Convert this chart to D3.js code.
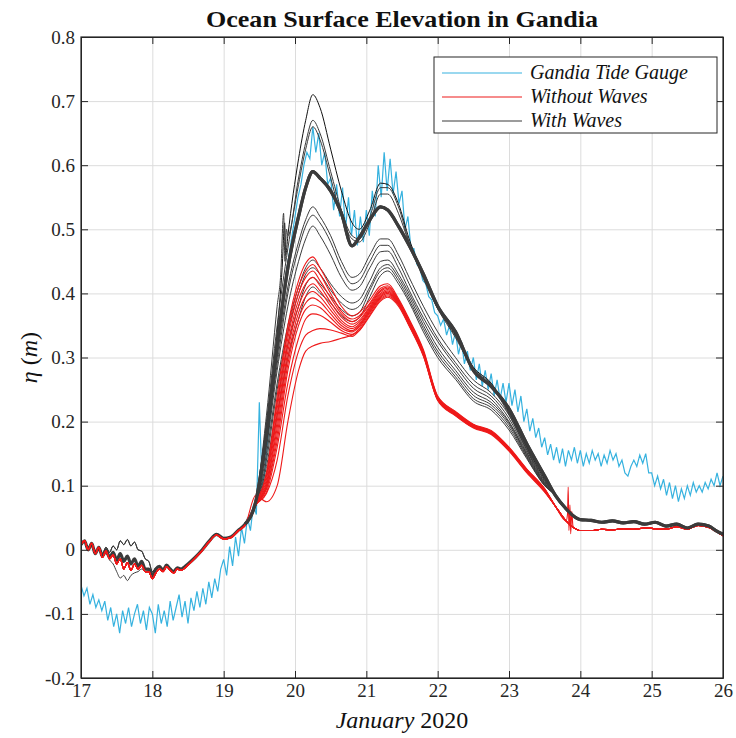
<!DOCTYPE html>
<html>
<head>
<meta charset="utf-8">
<script src="https://cdn.jsdelivr.net/npm/d3@7"></script>
<style>
    body { margin: 0; background: white; }
    svg { display: block; font-family: "Liberation Serif", "DejaVu Serif", serif; }
</style>
</head>
<body>
<svg id="chart"></svg>
<script>
    // ---- data ----
    const xTicks = [17, 18, 19, 20, 21, 22, 23, 24, 25, 26];
    const yTicks = [-0.2, -0.1, 0, 0.1, 0.2, 0.3, 0.4, 0.5, 0.6, 0.7, 0.8];
    const legendLabels = ["Gandia Tide Gauge", "Without Waves", "With Waves"];

    // tide gauge, hourly from Jan 17 00:00 to Jan 26 00:00
    const gaugeStart = 17;
    const gaugeStep = 1 / 24;
    const gauge = [
        -0.055, -0.072, -0.06, -0.085, -0.07, -0.09, -0.078, -0.095, -0.08, -0.11, -0.09, -0.12,
        -0.1, -0.13, -0.095, -0.115, -0.09, -0.12, -0.1, -0.085, -0.115, -0.095, -0.125, -0.09,
        -0.1, -0.13, -0.085, -0.115, -0.095, -0.12, -0.08, -0.11, -0.09, -0.07, -0.105, -0.08,
        -0.115, -0.075, -0.095, -0.065, -0.09, -0.06, -0.085, -0.05, -0.075, -0.045, -0.065, -0.03,
        -0.015, -0.04, 0.005, -0.025, 0.02, -0.01, 0.035, 0.01, 0.05, 0.03, 0.07, 0.055,
        0.23, 0.09, 0.13, 0.18, 0.22, 0.28, 0.31, 0.36, 0.39, 0.43, 0.46, 0.49,
        0.52, 0.55, 0.57, 0.6, 0.62, 0.61, 0.66, 0.62, 0.65, 0.6, 0.62, 0.57,
        0.58, 0.53, 0.57, 0.52, 0.565, 0.5, 0.55, 0.49, 0.53, 0.475, 0.52, 0.48,
        0.53, 0.49, 0.56, 0.52, 0.6, 0.55, 0.62, 0.56, 0.61, 0.555, 0.59, 0.54,
        0.56, 0.5, 0.52, 0.47, 0.47, 0.445, 0.44, 0.42, 0.415, 0.395, 0.39, 0.37,
        0.365, 0.35, 0.36, 0.335, 0.35, 0.32, 0.34, 0.305, 0.325, 0.29, 0.31, 0.28,
        0.3, 0.265, 0.29, 0.255, 0.28, 0.25, 0.275, 0.24, 0.265, 0.235, 0.26, 0.23,
        0.26, 0.225, 0.25, 0.215, 0.24, 0.2, 0.22, 0.185, 0.205, 0.175, 0.19, 0.16,
        0.175, 0.148, 0.165, 0.14, 0.16, 0.135, 0.158, 0.13, 0.155, 0.14, 0.16, 0.135,
        0.155, 0.13, 0.15, 0.135, 0.155, 0.14, 0.15, 0.13, 0.148, 0.135, 0.155, 0.14,
        0.15, 0.13, 0.14, 0.12, 0.115, 0.13, 0.14, 0.13, 0.148, 0.135, 0.15, 0.12,
        0.12, 0.1, 0.115, 0.095, 0.11, 0.085, 0.105, 0.08, 0.1, 0.075, 0.095, 0.08,
        0.1, 0.085, 0.105, 0.09, 0.1, 0.09, 0.105, 0.095, 0.11, 0.1, 0.12, 0.1,
        0.115
    ];

    // model runs: calm part before the storm (shared), storm part per run, tail (shared)
    const headDays = [17.0, 17.05, 17.1, 17.15, 17.2, 17.25, 17.3, 17.35, 17.4, 17.45,
        17.5, 17.55, 17.6, 17.65, 17.7, 17.75, 17.8, 17.85, 17.9, 17.95,
        18.0, 18.05, 18.1, 18.15, 18.2, 18.25, 18.3, 18.35, 18.4,
        18.5, 18.6, 18.7, 18.8, 18.9, 19.0, 19.1, 19.2];
    const headBase = [0.008, 0.014, 0.0, 0.01, -0.006, 0.004, -0.01, 0.0, -0.012, -0.004,
        -0.016, -0.006, -0.018, -0.01, -0.022, -0.014, -0.026, -0.018, -0.03, -0.03,
        -0.04, -0.03, -0.026, -0.032, -0.024, -0.03, -0.034, -0.028, -0.03,
        -0.022, -0.012, 0.0, 0.014, 0.024, 0.018, 0.02, 0.03];
    const headHigh = [0.008, 0.014, 0.0, 0.01, -0.006, 0.004, -0.008, 0.004, -0.004, 0.006,
        0.0, 0.014, 0.008, 0.016, 0.006, 0.012, 0.0, -0.002, -0.014, -0.018,
        -0.034, -0.028, -0.026, -0.032, -0.024, -0.03, -0.034, -0.028, -0.03,
        -0.022, -0.012, 0.0, 0.014, 0.024, 0.018, 0.02, 0.03];
    const headLow = [0.008, 0.014, 0.0, 0.01, -0.006, 0.004, -0.01, -0.006, -0.016, -0.022,
        -0.034, -0.044, -0.04, -0.048, -0.04, -0.036, -0.034, -0.03, -0.034, -0.032,
        -0.04, -0.03, -0.026, -0.032, -0.024, -0.03, -0.034, -0.028, -0.03,
        -0.022, -0.012, 0.0, 0.014, 0.024, 0.018, 0.02, 0.03];
    const headRed = [0.008, 0.014, 0.0, 0.01, -0.006, 0.004, -0.012, -0.002, -0.014, -0.008,
        -0.022, -0.014, -0.03, -0.02, -0.032, -0.022, -0.03, -0.024, -0.034, -0.034,
        -0.045, -0.036, -0.03, -0.034, -0.026, -0.032, -0.036, -0.03, -0.032,
        -0.024, -0.013, -0.001, 0.013, 0.023, 0.017, 0.019, 0.029];

    const stormDays = [19.3, 19.45, 19.6, 19.75, 19.9, 20.05, 20.15, 20.25, 20.35, 20.5,
        20.65, 20.8, 20.9, 21.05, 21.2, 21.3, 21.45, 21.6, 21.8, 22.0,
        22.25, 22.5, 22.75, 23.0, 23.25, 23.5];

    const withWaves = [
        [0.04, 0.076, 0.19, 0.34, 0.49, 0.61, 0.67, 0.71, 0.69, 0.625, 0.56, 0.51, 0.50, 0.53, 0.572, 0.57, 0.54, 0.485, 0.43, 0.38, 0.335, 0.285, 0.26, 0.215, 0.16, 0.11],
        [0.04, 0.078, 0.21, 0.38, 0.49, 0.58, 0.635, 0.67, 0.65, 0.59, 0.53, 0.49, 0.485, 0.52, 0.565, 0.565, 0.535, 0.48, 0.425, 0.378, 0.333, 0.283, 0.258, 0.213, 0.158, 0.108],
        [0.04, 0.077, 0.2, 0.35, 0.47, 0.57, 0.625, 0.66, 0.64, 0.58, 0.52, 0.485, 0.48, 0.51, 0.555, 0.555, 0.525, 0.478, 0.423, 0.376, 0.331, 0.281, 0.256, 0.211, 0.156, 0.107],
        [0.04, 0.075, 0.18, 0.32, 0.44, 0.52, 0.565, 0.59, 0.58, 0.56, 0.525, 0.474, 0.487, 0.515, 0.535, 0.53, 0.505, 0.475, 0.43, 0.38, 0.34, 0.28, 0.255, 0.22, 0.165, 0.115],
        [0.04, 0.074, 0.17, 0.3, 0.41, 0.48, 0.515, 0.535, 0.52, 0.49, 0.45, 0.425, 0.43, 0.46, 0.485, 0.485, 0.46, 0.425, 0.38, 0.34, 0.3, 0.265, 0.245, 0.21, 0.155, 0.105],
        [0.04, 0.074, 0.17, 0.29, 0.4, 0.47, 0.505, 0.522, 0.51, 0.48, 0.44, 0.415, 0.42, 0.45, 0.475, 0.475, 0.45, 0.415, 0.37, 0.33, 0.292, 0.258, 0.24, 0.205, 0.152, 0.104],
        [0.04, 0.072, 0.16, 0.28, 0.38, 0.45, 0.485, 0.505, 0.49, 0.46, 0.425, 0.405, 0.41, 0.44, 0.465, 0.466, 0.44, 0.405, 0.362, 0.325, 0.287, 0.252, 0.235, 0.2, 0.15, 0.103],
        [0.04, 0.07, 0.15, 0.26, 0.35, 0.41, 0.44, 0.452, 0.44, 0.415, 0.395, 0.385, 0.39, 0.42, 0.45, 0.452, 0.43, 0.4, 0.356, 0.316, 0.28, 0.246, 0.23, 0.198, 0.148, 0.102],
        [0.04, 0.07, 0.14, 0.25, 0.34, 0.4, 0.43, 0.44, 0.43, 0.405, 0.385, 0.375, 0.38, 0.41, 0.44, 0.445, 0.425, 0.395, 0.35, 0.31, 0.275, 0.241, 0.226, 0.195, 0.146, 0.101],
        [0.04, 0.07, 0.13, 0.23, 0.32, 0.38, 0.413, 0.425, 0.415, 0.395, 0.375, 0.365, 0.37, 0.405, 0.435, 0.44, 0.42, 0.39, 0.345, 0.305, 0.27, 0.236, 0.222, 0.191, 0.144, 0.1],
        [0.04, 0.07, 0.12, 0.21, 0.3, 0.36, 0.395, 0.41, 0.4, 0.385, 0.365, 0.356, 0.362, 0.395, 0.428, 0.435, 0.415, 0.386, 0.34, 0.3, 0.266, 0.232, 0.218, 0.187, 0.142, 0.1]
    ];
    const withWavesHeads = ["high", "high", "base", "base", "base", "low", "base", "base", "base", "base", "base"];

    const withoutWaves = [
        [0.038, 0.072, 0.12, 0.24, 0.35, 0.42, 0.447, 0.457, 0.44, 0.41, 0.38, 0.365, 0.37, 0.39, 0.412, 0.415, 0.392, 0.36, 0.312, 0.24, 0.216, 0.196, 0.186, 0.16, 0.126, 0.095],
        [0.038, 0.072, 0.115, 0.23, 0.34, 0.41, 0.435, 0.445, 0.43, 0.4, 0.372, 0.36, 0.365, 0.385, 0.408, 0.412, 0.39, 0.358, 0.31, 0.239, 0.215, 0.195, 0.185, 0.159, 0.125, 0.095],
        [0.038, 0.071, 0.11, 0.22, 0.33, 0.4, 0.425, 0.435, 0.42, 0.393, 0.368, 0.356, 0.362, 0.383, 0.405, 0.41, 0.389, 0.357, 0.309, 0.238, 0.214, 0.195, 0.184, 0.158, 0.125, 0.094],
        [0.038, 0.071, 0.105, 0.21, 0.32, 0.39, 0.415, 0.425, 0.412, 0.386, 0.363, 0.352, 0.358, 0.38, 0.403, 0.408, 0.388, 0.356, 0.308, 0.237, 0.213, 0.194, 0.184, 0.158, 0.124, 0.094],
        [0.038, 0.07, 0.1, 0.2, 0.31, 0.38, 0.405, 0.415, 0.404, 0.38, 0.358, 0.348, 0.355, 0.378, 0.4, 0.406, 0.387, 0.355, 0.307, 0.236, 0.212, 0.193, 0.183, 0.157, 0.124, 0.093],
        [0.038, 0.07, 0.1, 0.19, 0.3, 0.37, 0.395, 0.403, 0.395, 0.374, 0.354, 0.345, 0.352, 0.376, 0.398, 0.404, 0.386, 0.354, 0.306, 0.236, 0.212, 0.193, 0.183, 0.157, 0.123, 0.093],
        [0.038, 0.07, 0.095, 0.18, 0.29, 0.36, 0.385, 0.393, 0.387, 0.368, 0.35, 0.342, 0.35, 0.374, 0.396, 0.402, 0.385, 0.353, 0.305, 0.235, 0.211, 0.192, 0.182, 0.156, 0.123, 0.092],
        [0.038, 0.07, 0.095, 0.17, 0.28, 0.35, 0.375, 0.382, 0.378, 0.362, 0.346, 0.34, 0.348, 0.372, 0.394, 0.4, 0.384, 0.352, 0.305, 0.235, 0.211, 0.192, 0.182, 0.156, 0.122, 0.092],
        [0.038, 0.07, 0.09, 0.16, 0.26, 0.33, 0.36, 0.368, 0.366, 0.355, 0.342, 0.336, 0.345, 0.37, 0.392, 0.398, 0.383, 0.351, 0.304, 0.234, 0.21, 0.191, 0.181, 0.155, 0.122, 0.091],
        [0.038, 0.07, 0.088, 0.14, 0.24, 0.31, 0.335, 0.342, 0.345, 0.343, 0.338, 0.333, 0.342, 0.367, 0.39, 0.396, 0.382, 0.35, 0.303, 0.234, 0.21, 0.191, 0.181, 0.155, 0.121, 0.091],
        [0.038, 0.085, 0.075, 0.1, 0.2, 0.28, 0.31, 0.318, 0.322, 0.325, 0.33, 0.335, 0.342, 0.365, 0.388, 0.394, 0.38, 0.349, 0.302, 0.233, 0.209, 0.19, 0.18, 0.154, 0.12, 0.09]
    ];

    const tailDays = [23.65, 23.8, 23.9, 24.0, 24.15, 24.3, 24.45, 24.6, 24.75, 24.9,
        25.05, 25.2, 25.35, 25.5, 25.65, 25.8, 25.9, 26.0];
    const withTail = [0.085, 0.064, 0.053, 0.047, 0.046, 0.043, 0.045, 0.042, 0.044, 0.04,
        0.043, 0.037, 0.04, 0.034, 0.04, 0.037, 0.03, 0.024];
    const withoutTail = [0.068, 0.045, 0.035, 0.03, 0.03, 0.032, 0.031, 0.033, 0.032, 0.034,
        0.033, 0.032, 0.036, 0.032, 0.038, 0.035, 0.029, 0.022];

    // short jumps seen in single runs
    const withSpikeA = [[19.82, 0.44], [19.855, 0.51], [19.87, 0.46]];
    const withSpikeB = [[19.8, 0.43], [19.84, 0.525], [19.86, 0.45], [19.88, 0.5]];
    const withoutSpike = [[23.82, 0.055], [23.83, 0.098], [23.84, 0.03], [23.855, 0.07],
        [23.865, 0.025], [23.88, 0.06], [23.895, 0.038]];

    // ---- build series ----
    const heads = { base: headBase, high: headHigh, low: headLow, red: headRed };

    function buildRun(headVals, storm, tail, extra) {
        let pts = headDays.map((d, i) => [d, headVals[i]]);
        pts = pts.concat(stormDays.map((d, i) => [d, storm[i]]));
        pts = pts.concat(tailDays.map((d, i) => [d, tail[i]]));
        if (extra) pts = pts.concat(extra);
        return pts.sort((a, b) => a[0] - b[0]);
    }

    const gaugeSeries = gauge.map((v, i) => [gaugeStart + i * gaugeStep, v]);
    const withRuns = withWaves.map((s, i) => buildRun(heads[withWavesHeads[i]], s, withTail,
        i === 0 ? withSpikeA : i === 1 ? withSpikeB : null));
    const withoutRuns = withoutWaves.map((s, i) => buildRun(heads.red, s, withoutTail,
        i === 0 ? withoutSpike : null));

    // ---- drawing ----
    const width = 736, height = 738;
    const margin = { top: 37, right: 13, bottom: 60, left: 81 };
    const bodyWidth = width - margin.left - margin.right;
    const bodyHeight = height - margin.top - margin.bottom;

    const colors = { gauge: "#36b2df", without: "#ee1a1a", with: "#3b3b3b", withTop: "#111111" };

    const svg = d3.select("#chart").attr("width", width).attr("height", height);
    svg.append("rect").attr("width", width).attr("height", height).attr("fill", "white");

    const xScale = d3.scaleLinear().domain([17, 26]).range([0, bodyWidth]);
    const yScale = d3.scaleLinear().domain([-0.2, 0.8]).range([bodyHeight, 0]);

    const body = svg.append("g").attr("transform", `translate(${margin.left},${margin.top})`);

    // grid
    body.append("g")
        .attr("transform", `translate(0,${bodyHeight})`)
        .call(d3.axisBottom(xScale).tickValues(xTicks).tickSize(-bodyHeight).tickFormat(""))
        .call(g => g.select(".domain").remove())
        .call(g => g.selectAll("line").attr("stroke", "#dcdcdc"));
    body.append("g")
        .call(d3.axisLeft(yScale).tickValues(yTicks).tickSize(-bodyWidth).tickFormat(""))
        .call(g => g.select(".domain").remove())
        .call(g => g.selectAll("line").attr("stroke", "#dcdcdc"));

    body.append("clipPath").attr("id", "plotClip")
        .append("rect").attr("width", bodyWidth).attr("height", bodyHeight);

    const plot = body.append("g").attr("clip-path", "url(#plotClip)");

    const straight = d3.line().x(d => xScale(d[0])).y(d => yScale(d[1]));
    const smooth = d3.line().x(d => xScale(d[0])).y(d => yScale(d[1])).curve(d3.curveMonotoneX);

    plot.append("path").datum(gaugeSeries)
        .attr("d", straight).attr("fill", "none")
        .attr("stroke", colors.gauge).attr("stroke-width", 1.2);

    plot.selectAll(".with").data(withRuns).enter().append("path")
        .attr("class", "with")
        .attr("d", smooth).attr("fill", "none")
        .attr("stroke", (d, i) => i === 0 ? colors.withTop : colors.with)
        .attr("stroke-width", (d, i) => i === 3 ? 3.2 : 1);

    plot.selectAll(".without").data(withoutRuns).enter().append("path")
        .attr("class", "without")
        .attr("d", smooth).attr("fill", "none")
        .attr("stroke", colors.without).attr("stroke-width", 1.1);

    // thick "with waves" run drawn again on top where the runs bunch together
    plot.append("path").datum(withRuns[3].filter(p => p[0] >= 19.3))
        .attr("d", smooth).attr("fill", "none")
        .attr("stroke", colors.with).attr("stroke-width", 3.2);

    // axes with inward ticks on all four sides
    const tickLen = 7;
    const fmt = d => String(+d.toFixed(1));

    const xAxis = body.append("g")
        .attr("transform", `translate(0,${bodyHeight})`)
        .call(d3.axisBottom(xScale).tickValues(xTicks).tickSizeInner(-tickLen).tickSizeOuter(0).tickPadding(6).tickFormat(d => d));
    const yAxis = body.append("g")
        .call(d3.axisLeft(yScale).tickValues(yTicks).tickSizeInner(-tickLen).tickSizeOuter(0).tickPadding(6).tickFormat(fmt));
    const xTop = body.append("g")
        .call(d3.axisTop(xScale).tickValues(xTicks).tickSizeInner(-tickLen).tickSizeOuter(0).tickFormat(""));
    const yRight = body.append("g")
        .attr("transform", `translate(${bodyWidth},0)`)
        .call(d3.axisRight(yScale).tickValues(yTicks).tickSizeInner(-tickLen).tickSizeOuter(0).tickFormat(""));

    [xAxis, yAxis, xTop, yRight].forEach(g => {
        g.select(".domain").attr("stroke", "#262626");
        g.selectAll("line").attr("stroke", "#262626");
        g.selectAll("text").attr("font-family", "Liberation Serif, serif")
            .attr("font-size", 19).attr("fill", "#262626");
    });

    body.append("rect")
        .attr("width", bodyWidth).attr("height", bodyHeight)
        .attr("fill", "none").attr("stroke", "#262626").attr("stroke-width", 1.2);

    // title
    svg.append("text")
        .attr("x", margin.left + bodyWidth / 2).attr("y", 27)
        .attr("text-anchor", "middle")
        .attr("font-size", 24).attr("font-weight", "bold").attr("fill", "#111")
        .attr("textLength", 392).attr("lengthAdjust", "spacingAndGlyphs")
        .text("Ocean Surface Elevation in Gandia");

    // x label
    const xl = svg.append("text")
        .attr("x", margin.left + bodyWidth / 2).attr("y", 728)
        .attr("text-anchor", "middle")
        .attr("font-size", 24).attr("fill", "#111");
    xl.append("tspan").attr("font-style", "italic").text("January");
    xl.append("tspan").text(" 2020");

    // y label
    const yl = svg.append("text")
        .attr("transform", `translate(37,${margin.top + bodyHeight / 2}) rotate(-90)`)
        .attr("text-anchor", "middle")
        .attr("font-size", 24).attr("fill", "#111");
    yl.append("tspan").attr("font-style", "italic").text("η");
    yl.append("tspan").text(" (");
    yl.append("tspan").attr("font-style", "italic").text("m");
    yl.append("tspan").text(")");

    // legend
    const legend = svg.append("g").attr("transform", "translate(434,57)");
    legend.append("rect")
        .attr("width", 283).attr("height", 76)
        .attr("fill", "white").attr("stroke", "#262626").attr("stroke-width", 1);
    const legendColors = [colors.gauge, colors.without, colors.with];
    const rows = legend.selectAll(".row").data(legendLabels).enter().append("g")
        .attr("transform", (d, i) => `translate(0,${16 + i * 24})`);
    rows.append("line")
        .attr("x1", 8).attr("x2", 88)
        .attr("stroke", (d, i) => legendColors[i]).attr("stroke-width", 1.2);
    rows.append("text")
        .attr("x", 96).attr("y", 6)
        .attr("font-size", 20).attr("font-style", "italic").attr("fill", "#111")
        .text(d => d);
</script>
</body>
</html>
